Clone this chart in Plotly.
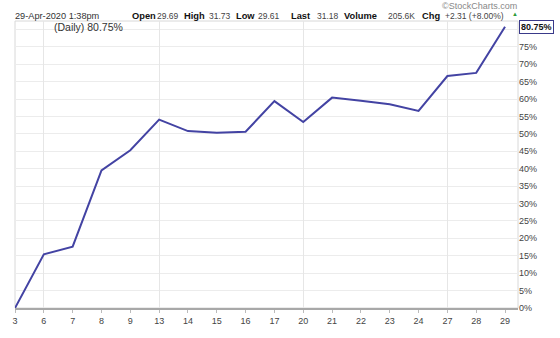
import plotly.graph_objects as go

days = ["3", "6", "7", "8", "9", "13", "14", "15", "16", "17",
        "20", "21", "22", "23", "24", "27", "28", "29"]
pct = [0.0, 15.4, 17.6, 39.5, 45.3, 54.1, 50.8, 50.3, 50.6, 59.4,
       53.4, 60.4, 59.5, 58.5, 56.6, 66.6, 67.5, 80.75]
week_starts = ["6", "13", "20", "27"]
ytick_vals = list(range(0, 85, 5))
ytick_text = [f"{v}%" for v in ytick_vals[:-1]] + [""]
header_labels = ["Open", "High", "Low", "Last", "Volume", "Chg"]
header_values = ["29.69", "31.73", "29.61", "31.18", "205.6K", "+2.31 (+8.00%)"]

idx = list(range(len(days)))
grid_idx = [days.index(d) for d in week_starts]

FONT = "Liberation Sans, Arial, sans-serif"
LINE = "#4343a3"
L, R, T, B = 13, 42, 21, 27
PW = 560 - L - R

fig = go.Figure()
fig.add_trace(go.Scatter(x=idx, y=pct, mode="lines",
                         line=dict(color=LINE, width=2), hoverinfo="skip",
                         showlegend=False))
fig.add_trace(go.Scatter(x=[idx[0]], y=[pct[0]], xaxis="x2", mode="markers",
                         marker=dict(opacity=0), showlegend=False, hoverinfo="skip"))

xr = [0, len(days) - 1 + 0.45]
fig.update_layout(
    width=560, height=338,
    margin=dict(l=L, r=R, t=T, b=B),
    paper_bgcolor="white", plot_bgcolor="white",
    font=dict(family=FONT, size=9, color="#444"),
    xaxis=dict(range=xr, tickvals=idx, ticktext=days, showgrid=False,
               zeroline=False, showline=True, linecolor="#a8a8a8", linewidth=2,
               ticks="outside", ticklen=3, tickcolor="#bbb",
               tickfont=dict(size=9, color="#444")),
    xaxis2=dict(range=xr, overlaying="x", tickvals=grid_idx, showgrid=True,
                gridcolor="#e6e6e6", gridwidth=1, showticklabels=False,
                zeroline=False, ticks=""),
    yaxis=dict(range=[0, 82.4], side="right", tickvals=ytick_vals,
               ticktext=ytick_text, showgrid=True, gridcolor="#ececec",
               zeroline=False, ticks="", tickfont=dict(size=9, color="#444")),
    hovermode=False,
)

fig.add_shape(type="rect", xref="paper", yref="paper", x0=0, x1=1, y0=0, y1=1,
              line=dict(color="#d8d8d8", width=1), layer="below")

def px(x):
    return (x - L) / PW

def head(x, text, size, color="#333", bold=False):
    fig.add_annotation(xref="paper", yref="paper", x=px(x), y=1, yshift=-1,
                       xanchor="left", yanchor="bottom", showarrow=False, borderpad=0,
                       text=f"<b>{text}</b>" if bold else text,
                       font=dict(size=size, color=color))

head(12, "29-Apr-2020 1:38pm", 9.2)
label_x = [129, 182, 234, 289, 342, 421]
value_x = [155, 207, 256, 315, 386, 444]
for lab, val, lx, vx in zip(header_labels, header_values, label_x, value_x):
    head(lx, lab, 9.3, color="#111", bold=True)
    head(vx, val, 8.5, color="#444")
fig.add_annotation(xref="paper", yref="paper", x=px(511), y=1, yshift=3,
                   xanchor="left", yanchor="bottom", showarrow=False, borderpad=0,
                   text="▲", font=dict(size=6, color="#2e9a3a"))
fig.add_annotation(xref="paper", yref="paper", x=1, y=1, xshift=0, yshift=T,
                   xanchor="right", yanchor="top", showarrow=False, borderpad=0,
                   text="©StockCharts.com", font=dict(size=9, color="#888"))
fig.add_annotation(xref="paper", yref="y", x=0, y=pct[-1], xshift=37,
                   xanchor="left", yanchor="middle", showarrow=False,
                   text=f"(Daily) {pct[-1]:.2f}%", font=dict(size=10.5, color="#333"))
fig.add_annotation(xref="paper", yref="y", x=1, y=pct[-1], xshift=1,
                   xanchor="left", yanchor="middle", showarrow=False,
                   text=f"<b>{pct[-1]:.2f}%</b>", font=dict(size=9, color="#111"),
                   bgcolor="white", bordercolor="#3a3a8a", borderwidth=1, borderpad=1)

fig.write_html("out.html")
